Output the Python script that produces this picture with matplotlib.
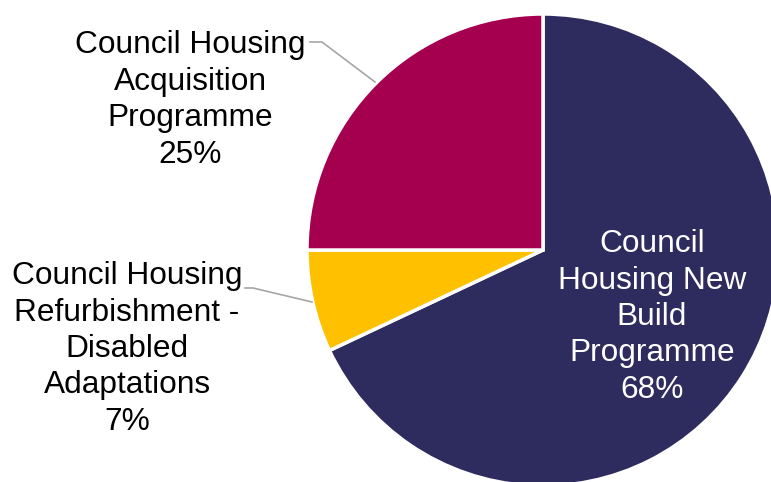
import matplotlib.pyplot as plt

plt.rcParams['font.family'] = ['Liberation Sans', 'DejaVu Sans']

# shares of the housing programme budget
categories = ["Council\nHousing New\nBuild\nProgramme",
              "Council Housing\nRefurbishment -\nDisabled\nAdaptations",
              "Council Housing\nAcquisition\nProgramme"]
shares = [68, 7, 25]
colors = ["#2E2B5E", "#FFC000", "#A50050"]

W, H = 771, 482
fig = plt.figure(figsize=(W / 100, H / 100), dpi=100)
ax = fig.add_axes([0, 0, 1, 1])

cx, cy, r = 543, H - 250, 236
ax.pie(shares, colors=colors, startangle=90, counterclock=False,
       center=(cx, cy), radius=r, frame=True,
       wedgeprops=dict(edgecolor="white", linewidth=2.5))
ax.set_xlim(0, W)
ax.set_ylim(0, H)
ax.set_aspect("equal")
ax.axis("off")

labels = [f"{c}\n{s}%" for c, s in zip(categories, shares)]
fs = 22.8
ls = 1.28
# inside label
ax.text(652, H - 317, labels[0], color="white", ha="center", va="center",
        fontsize=fs, linespacing=ls)
# outside labels
ax.text(127, H - 349, labels[1], color="black", ha="center", va="center",
        fontsize=fs, linespacing=ls)
ax.text(190, H - 100, labels[2], color="black", ha="center", va="center",
        fontsize=fs, linespacing=ls)

# leader lines
ax.plot([310, 322, 375], [H - 42, H - 42, H - 82], color="#A6A6A6", lw=1.2)
ax.plot([245, 253, 312], [H - 288, H - 288, H - 302], color="#A6A6A6", lw=1.2)

fig.savefig("out.png", dpi=100)
